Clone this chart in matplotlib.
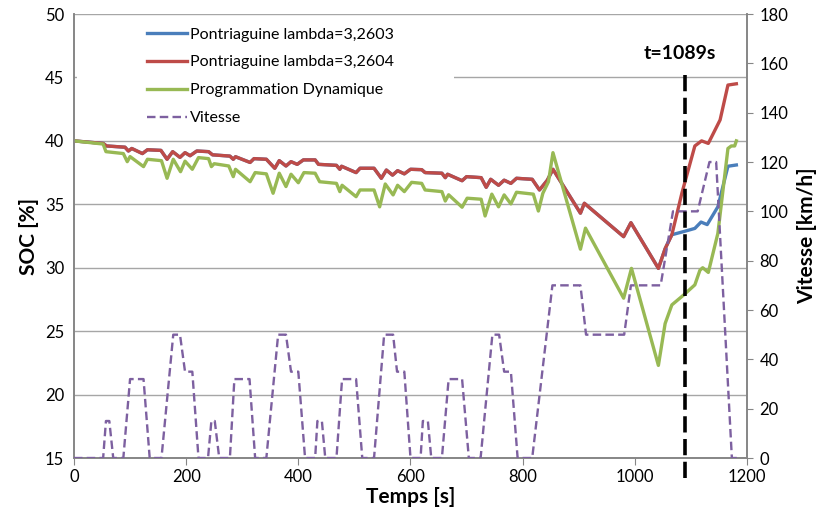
import matplotlib
matplotlib.use('Agg')
import matplotlib.pyplot as plt
import matplotlib.patches as mpatches
from matplotlib.lines import Line2D

plt.rcParams.update({
    'font.family': ['Lato', 'DejaVu Sans'],
    'font.size': 12,
})

# ── Data ─────────────────────────────────────────────────────────────────────
# Vitesse [km/h]
T_V = [0, 52, 57, 63, 70, 88, 100, 124, 135, 156, 177, 189, 198, 211, 222,
       239, 245, 251, 259, 278, 286, 313, 323, 343, 364, 378, 387, 400, 412,
       430, 434, 442, 448, 468, 478, 503, 514, 535, 553, 569, 576, 589, 600,
       618, 622, 631, 637, 656, 668, 692, 704, 725, 746, 758, 767, 779, 791,
       817, 853, 903, 913, 981, 993, 1046, 1068, 1112, 1133, 1145, 1173, 1182]
VITESSE = [0, 0, 15, 15, 0, 0, 32, 32, 0, 0, 50, 50, 35, 35, 0,
           0, 15, 15, 0, 0, 32, 32, 0, 0, 50, 50, 35, 35, 0,
           0, 15, 15, 0, 0, 32, 32, 0, 0, 50, 50, 35, 35, 0,
           0, 15, 15, 0, 0, 32, 32, 0, 0, 50, 50, 35, 35, 0,
           0, 70, 70, 50, 50, 70, 70, 100, 100, 120, 120, 0, 0]

# Pontriaguine lambda=3,2604
T_RED = [0, 52, 58, 91, 97, 103, 122, 131, 155, 166, 176, 189, 198, 207, 219,
         240, 247, 278, 284, 288, 314, 321, 343, 358, 366, 378, 387, 398, 409,
         430, 436, 468, 474, 477, 503, 510, 535, 548, 557, 568, 577, 589, 600,
         620, 626, 656, 662, 666, 692, 700, 726, 735, 743, 757, 767, 779, 789,
         817, 830, 844, 854, 903, 910, 980, 993, 1042, 1054, 1066, 1084, 1107,
         1119, 1131, 1152, 1166, 1181]
SOC_RED = [40.0, 39.8, 39.6, 39.5, 39.2, 39.4, 39.0, 39.3, 39.25, 38.55, 39.15,
           38.7, 39.07, 38.83, 39.2, 39.15, 38.9, 38.8, 38.55, 38.75, 38.3,
           38.6, 38.55, 37.84, 38.44, 38.02, 38.36, 38.15, 38.5, 38.5, 38.15,
           38.07, 37.76, 38.0, 37.5, 37.84, 37.84, 37.05, 37.7, 37.3, 37.65,
           37.4, 37.76, 37.73, 37.5, 37.45, 37.1, 37.37, 36.86, 37.18, 37.1,
           36.34, 36.97, 36.5, 36.9, 36.65, 37.05, 36.97, 36.13, 36.9, 37.76,
           34.3, 35.08, 32.45, 33.55, 29.95, 31.5, 32.6, 35.9, 39.6, 40.0, 39.8,
           41.65, 44.4, 44.5]

# Pontriaguine lambda=3,2603 : identical to 3,2604 up to t=1066 s
K_SPLIT = T_RED.index(1066) + 1
T_BLUE = T_RED[:K_SPLIT] + [1087, 1107, 1118, 1129, 1148, 1166, 1181]
SOC_BLUE = SOC_RED[:K_SPLIT] + [32.85, 33.1, 33.6, 33.4, 34.8, 38.0, 38.1]

# Programmation Dynamique
T_GREEN = [0, 52, 57, 88, 95, 100, 124, 131, 156, 166, 177, 190, 198, 211, 222,
           240, 245, 250, 276, 284, 288, 314, 323, 343, 355, 366, 378, 387, 400,
           410, 430, 438, 468, 474, 478, 503, 510, 535, 545, 555, 569, 577, 589,
           602, 620, 626, 656, 662, 668, 692, 701, 726, 733, 745, 757, 767, 779,
           789, 819, 828, 836, 846, 854, 903, 912, 980, 994, 1042, 1054, 1066,
           1087, 1107, 1116, 1121, 1131, 1148, 1166, 1172, 1178, 1181]
SOC_GREEN = [40.0, 39.75, 39.15, 39.0, 38.36, 38.76, 37.97, 38.55, 38.44, 37.05,
             38.55, 37.57, 38.4, 37.76, 38.68, 38.6, 37.97, 38.2, 38.02, 37.18,
             37.76, 36.78, 37.5, 37.4, 35.87, 37.45, 36.4, 37.37, 36.7, 37.5,
             37.45, 36.78, 36.65, 36.0, 36.5, 35.6, 36.13, 36.13, 34.8, 36.6,
             35.74, 36.5, 36.0, 36.73, 36.65, 36.13, 36.0, 35.26, 35.75, 34.77,
             35.48, 35.4, 34.08, 35.8, 34.8, 35.74, 35.03, 35.95, 35.8, 34.47,
             35.87, 36.78, 39.07, 31.46, 33.12, 27.6, 29.95, 22.3, 25.6, 27.07,
             27.85, 28.65, 29.8, 30.0, 29.63, 32.7, 39.4, 39.6, 39.6, 40.0]

T_MARK = 1089

# ── Colours (Excel 2007 palette) ─────────────────────────────────────────────
C_BLUE = '#4A7EBB'
C_RED = '#BE4B48'
C_GREEN = '#98B954'
C_PURPLE = '#7D60A0'
C_GRID = '#A6A6A6'
C_AXIS = '#868686'

LW = 2.4
DASH_V = (0, (3.6, 1.8))

fig = plt.figure(figsize=(8.34, 5.25), dpi=100)
ax = fig.add_axes([0.0887, 0.1276, 0.8070, 0.8457])
ax2 = ax.twinx()

# SOC curves
ax.plot(T_BLUE, SOC_BLUE, color=C_BLUE, lw=LW, solid_joinstyle='round', zorder=3)
ax.plot(T_RED, SOC_RED, color=C_RED, lw=LW, solid_joinstyle='round', zorder=4)
ax.plot(T_GREEN, SOC_GREEN, color=C_GREEN, lw=LW, solid_joinstyle='round', zorder=5)

ax.set_xlim(0, 1200)
ax.set_ylim(15, 50)
ax.set_xticks(range(0, 1201, 200))
ax.set_yticks(range(15, 51, 5))
ax.yaxis.grid(True, color=C_GRID, lw=1.0)
ax.set_axisbelow(True)
for sp in ('left', 'bottom', 'right'):
    ax.spines[sp].set_color(C_AXIS)
    ax.spines[sp].set_linewidth(1.2)
ax.spines['top'].set_visible(False)
ax.tick_params(axis='y', length=0, pad=7, labelsize=12)
ax.tick_params(axis='x', length=5, color=C_AXIS, pad=3, labelsize=12)
ax.set_xlabel('Temps [s]', fontsize=15, fontweight='bold', labelpad=1)
ax.set_ylabel('SOC [%]', fontsize=15, fontweight='bold', labelpad=4)

# white patch behind the legend (hides part of the 45 % grid line)
ax.add_patch(mpatches.Rectangle((0.005, 0.745), 0.56, 0.23, transform=ax.transAxes,
                                facecolor='white', edgecolor='none', zorder=1.5))

# Vitesse on secondary axis
ax2.plot(T_V, VITESSE, color=C_PURPLE, lw=1.7, ls=DASH_V, zorder=3)
ax2.set_ylim(0, 180)
ax2.set_yticks(range(0, 181, 20))
for sp in ('left', 'bottom', 'right'):
    ax2.spines[sp].set_color(C_AXIS)
    ax2.spines[sp].set_linewidth(1.2)
ax2.spines['top'].set_visible(False)
ax2.tick_params(axis='y', length=4, color=C_AXIS, pad=5, labelsize=12)
ax2.set_ylabel('Vitesse [km/h]', fontsize=15, fontweight='bold', labelpad=6)

# t=1089s marker
ax2.plot([T_MARK, T_MARK], [-0.045, 0.867], transform=ax2.get_xaxis_transform(),
         color='black', lw=2.6, ls=(0, (4.5, 1.8)), clip_on=False, zorder=6)
ax2.text(1080, 0.91, 't=1089s', transform=ax2.get_xaxis_transform(),
         ha='center', va='center', fontsize=14, fontweight='bold')

# Legend
handles = [
    Line2D([0], [0], color=C_BLUE, lw=LW),
    Line2D([0], [0], color=C_RED, lw=LW),
    Line2D([0], [0], color=C_GREEN, lw=LW),
    Line2D([0], [0], color=C_PURPLE, lw=1.7, ls=DASH_V),
]
labels = ['Pontriaguine lambda=3,2603', 'Pontriaguine lambda=3,2604',
          'Programmation Dynamique', 'Vitesse']
ax2.legend(handles, labels, loc='upper left', bbox_to_anchor=(0.108, 0.970),
           frameon=False, fontsize=11.5, handlelength=2.5, handletextpad=0.2,
           labelspacing=0.86, borderaxespad=0, borderpad=0)

fig.savefig('out.png', dpi=100)
